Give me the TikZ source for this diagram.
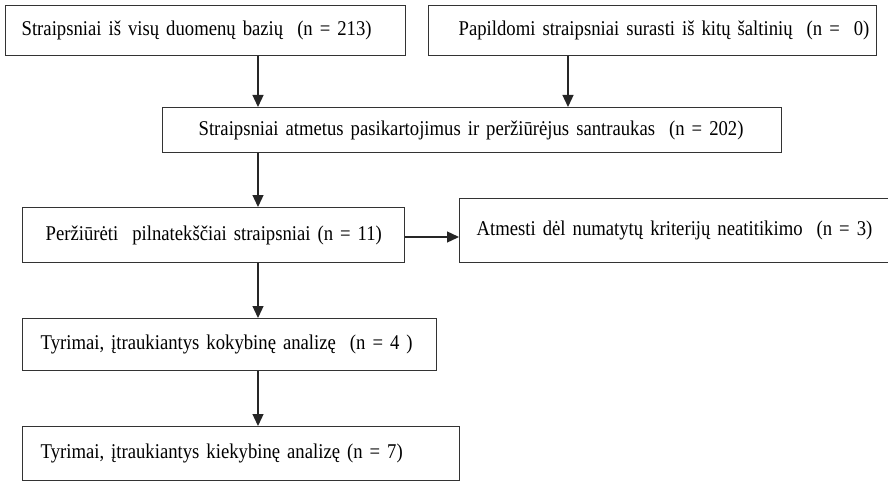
\documentclass[tikz,border=0pt]{standalone}
\usepackage{fontspec}
\setmainfont[FakeStretch=0.89]{Liberation Serif}
\usetikzlibrary{arrows.meta}
\usetikzlibrary{positioning}

\begin{document}
\begin{tikzpicture}[x=1pt, y=-1pt]

\tikzstyle{box}=[draw=black!80, line width=1.3pt, anchor=north west, align=left, inner xsep=0pt, inner ysep=0pt, font=\fontsize{21}{25}\selectfont]
\tikzstyle{connect}=[-{Triangle[length=12pt, width=11pt]}, line width=1.3pt, draw=black!85, fill=black!85]

\useasboundingbox (0,0) rectangle (888,481);
\clip (0,0) rectangle (888,481);

% columns and rows of the connectors
\coordinate (colA) at (258,0);
\coordinate (colB) at (568,0);
\coordinate (rowA) at (0,237);

\node[box, minimum height=50pt, text width=400pt] (db) at (5,5) {\hspace*{16pt}Straipsniai iš visų duomenų bazių\ \ (n = 213)};
\node[box, minimum height=50pt, text width=448pt] (other) at (428,5) {\hspace*{30pt}Papildomi straipsniai surasti iš kitų šaltinių\ \ (n =\ \ 0)};

\node[box, minimum height=45pt, text width=619pt] (dedup) at (162,107) {\hspace*{36pt}Straipsniai atmetus pasikartojimus ir peržiūrėjus santraukas\ \ (n = 202)};

\node[box, minimum height=55pt, text width=382pt] (fulltext) at (22,207) {\hspace*{23pt}Peržiūrėti\ \ pilnatekščiai straipsniai (n = 11)};
\node[box, minimum height=64pt, text width=440pt] (excluded) at (459,198) {\hspace*{17pt}Atmesti dėl numatytų kriterijų neatitikimo\ \ (n = 3)};

\node[box, minimum height=52pt, text width=414pt] (qual) at (22,318) {\hspace*{18pt}Tyrimai, įtraukiantys kokybinę analizę\ \ (n = 4 )};

\node[box, minimum height=54pt, text width=437pt] (quant) at (22,426) {\hspace*{18pt}Tyrimai, įtraukiantys kiekybinę analizę (n = 7)};

\draw[connect] (db.south -| colA) -- (dedup.north -| colA);
\draw[connect] (other.south -| colB) -- (dedup.north -| colB);
\draw[connect] (dedup.south -| colA) -- (fulltext.north -| colA);
\draw[connect] (fulltext.east |- rowA) -- (excluded.west |- rowA);
\draw[connect] (fulltext.south -| colA) -- (qual.north -| colA);
\draw[connect] (qual.south -| colA) -- (quant.north -| colA);

\end{tikzpicture}
\end{document}
